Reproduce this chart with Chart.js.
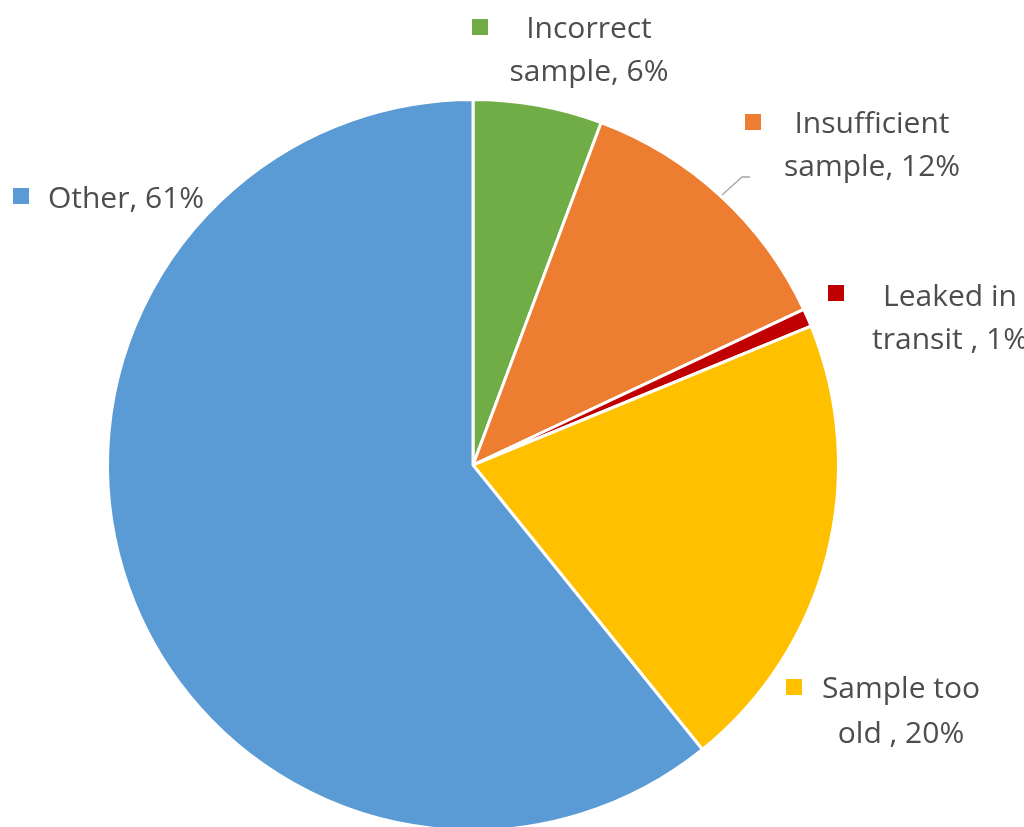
<!DOCTYPE html>
<html>
<head>
<meta charset="utf-8">
<script src="https://cdn.jsdelivr.net/npm/chart.js@4.4.1/dist/chart.umd.min.js"></script>
<style>
html,body{margin:0;padding:0;background:#fff;overflow:hidden;}
#wrap{position:relative;width:1024px;height:827px;overflow:hidden;}
</style>
</head>
<body>
<div id="wrap"><canvas id="c" width="1024" height="840"></canvas></div>
<script>
// Data
const categories = ["Incorrect sample", "Insufficient sample", "Leaked in transit ", "Sample too old ", "Other"];
const labelLines = [["Incorrect", "sample, 6%"], ["Insufficient", "sample, 12%"], ["Leaked in", "transit , 1%"], ["Sample too", "old , 20%"], ["Other, 61%"]];
const values = [5.7, 12.3, 0.8, 20.4, 60.8];
const colors = ["#70AD47", "#ED7D31", "#C00000", "#FFC000", "#5B9BD5"];

// Label layout (positions in pixels, separate from data)
const labelLayout = [
  {cx: 589, baselines: [38, 81], sq: [472, 19]},
  {cx: 872, baselines: [133, 176], sq: [745, 114]},
  {cx: 950, baselines: [306, 349], sq: [828, 285]},
  {cx: 901, baselines: [698, 743], sq: [786, 679]},
  {cx: 126, baselines: [208], sq: [13, 188]}
];

const labelPlugin = {
  id: 'outLabels',
  afterDraw(chart) {
    const ctx = chart.ctx;
    ctx.save();
    ctx.font = '30px "Open Sans", sans-serif';
    ctx.textAlign = 'center';
    ctx.textBaseline = 'alphabetic';
    labelLayout.forEach((l, i) => {
      ctx.fillStyle = colors[i];
      ctx.fillRect(l.sq[0], l.sq[1], 16, 16);
      ctx.fillStyle = '#4D4D4D';
      labelLines[i].forEach((t, j) => ctx.fillText(t, l.cx, l.baselines[j]));
    });
    // leader line for Insufficient sample
    ctx.strokeStyle = '#A6A6A6';
    ctx.lineWidth = 1.3;
    ctx.beginPath();
    ctx.moveTo(722, 195);
    ctx.lineTo(742, 177);
    ctx.lineTo(750, 177);
    ctx.stroke();
    ctx.restore();
  }
};

new Chart(document.getElementById('c'), {
  type: 'pie',
  data: {
    labels: categories,
    datasets: [{
      data: values,
      backgroundColor: colors,
      borderColor: '#ffffff',
      borderWidth: 3
    }]
  },
  options: {
    responsive: false,
    animation: false,
    rotation: 0,
    layout: {padding: {left: 106, right: 184, top: 98, bottom: 8}},
    plugins: {legend: {display: false}, tooltip: {enabled: false}}
  },
  plugins: [labelPlugin]
});
</script>
</body>
</html>
